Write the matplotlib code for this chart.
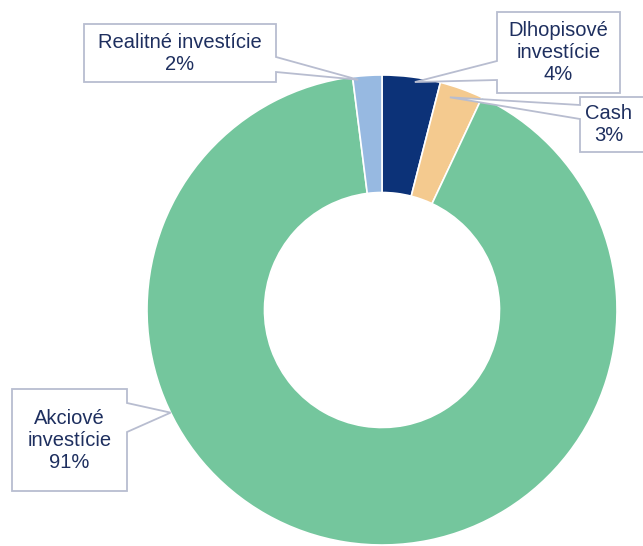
import numpy as np
import matplotlib.pyplot as plt
from matplotlib.patches import Polygon

plt.rcParams['font.family'] = ['Liberation Sans', 'DejaVu Sans']

labels = ['Dlhopisové\ninvestície', 'Cash', 'Akciové\ninvestície', 'Realitné investície']
shares = [4, 3, 91, 2]
colors = ['#0c3278', '#f4ca8f', '#74c69d', '#97b9e1']

text_color = '#1e2f5f'
edge_color = '#b8bdd0'

W, H = 643, 546

# callout layout in pixel coords (y downwards): box, side, wedge base (y0, y1), anchor angle, anchor radius fraction
callouts = [
    dict(box=(497, 12, 620, 93), side='left', base=(61, 80), angle=81.8, rfrac=0.98),
    dict(box=(580, 97, 660, 152), side='left', base=(105, 119), angle=72.3, rfrac=0.95),
    dict(box=(12, 389, 127, 491), side='right', base=(403, 432), angle=205.9, rfrac=1.0),
    dict(box=(84, 24, 276, 82), side='right', base=(57, 72), angle=95.9, rfrac=0.985),
]

cx, cy = 382, H - 310
radius = 235

fig = plt.figure(figsize=(6.43, 5.46), dpi=100)
ax = fig.add_axes([0, 0, 1, 1])

ax.pie(shares, colors=colors, startangle=90, counterclock=False,
       center=(cx, cy), radius=radius,
       wedgeprops=dict(width=radius * 0.5, edgecolor='white', linewidth=1.2))


def callout_polygon(box, side, base, tip):
    x0, y0, x1, y1 = box
    b0, b1 = base
    if side == 'left':
        pts = [(x0, y0), (x1, y0), (x1, y1), (x0, y1), (x0, b1), tip, (x0, b0)]
    else:
        pts = [(x0, y0), (x1, y0), (x1, b0), tip, (x1, b1), (x1, y1), (x0, y1)]
    return [(px, H - py) for px, py in pts]


for lab, val, c in zip(labels, shares, callouts):
    a = np.deg2rad(c['angle'])
    tx = cx + radius * c['rfrac'] * np.cos(a)
    ty = cy + radius * c['rfrac'] * np.sin(a)
    tip = (tx, H - ty)
    poly = Polygon(callout_polygon(c['box'], c['side'], c['base'], tip), closed=True,
                   facecolor='white', edgecolor=edge_color, linewidth=1.3, zorder=3)
    ax.add_patch(poly)
    x0, y0, x1, y1 = c['box']
    xm = (x0 + min(x1, W)) / 2 if x1 <= W else x0 + 29
    ax.text(xm, H - (y0 + y1) / 2, f'{lab}\n{val}%', ha='center', va='center',
            fontsize=14.5, color=text_color, linespacing=1.2, zorder=4)

ax.set_xlim(0, W)
ax.set_ylim(0, H)
ax.set_aspect('equal')
ax.axis('off')

fig.savefig('out.png', dpi=100)
